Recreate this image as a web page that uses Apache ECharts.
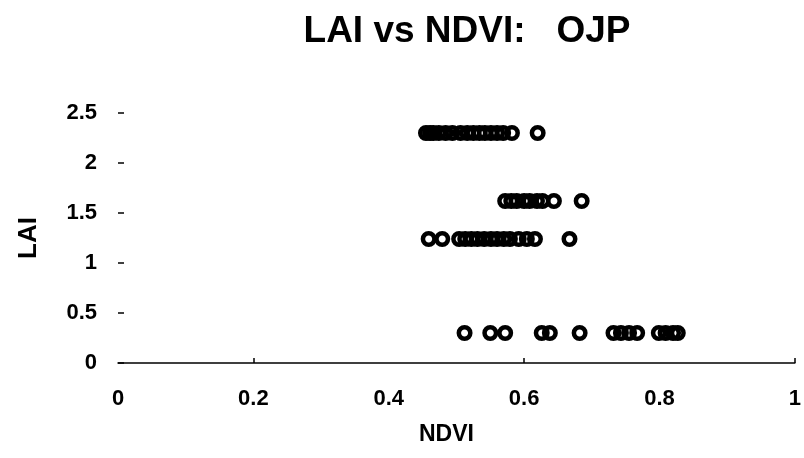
<!DOCTYPE html>
<html>
<head>
<meta charset="utf-8">
<script src="https://cdn.jsdelivr.net/npm/echarts@6/dist/echarts.min.js"></script>
<style>html,body{margin:0;padding:0;background:#fff}#c{width:804px;height:458px}</style>
</head>
<body>
<div id="c"></div>
<script>
// Data (NDVI, LAI)
const titleText = 'LAI vs NDVI:   OJP';
const xName = 'NDVI';
const yName = 'LAI';
const xTickLabels = [0, 0.2, 0.4, 0.6, 0.8, 1];
const yTickLabels = [0, 0.5, 1, 1.5, 2, 2.5];

const ndviLai230 = [0.455, 0.461, 0.466, 0.474, 0.484, 0.494, 0.506, 0.516, 0.525, 0.534, 0.542, 0.551, 0.560, 0.569, 0.582, 0.620];
const ndviLai162 = [0.572, 0.581, 0.589, 0.600, 0.608, 0.619, 0.627, 0.644, 0.685];
const ndviLai124 = [0.459, 0.479, 0.504, 0.513, 0.522, 0.531, 0.541, 0.551, 0.560, 0.570, 0.579, 0.592, 0.604, 0.616, 0.667];
const ndviLai030 = [0.512, 0.550, 0.572, 0.626, 0.638, 0.682, 0.732, 0.743, 0.755, 0.767, 0.799, 0.809, 0.820, 0.827];
const laiLevels = [2.30, 1.62, 1.24, 0.30];

const groups = [ndviLai230, ndviLai162, ndviLai124, ndviLai030];
const points = [];
groups.forEach((g, i) => g.forEach(x => points.push([x, laiLevels[i]])));

const font = '"Liberation Sans", Arial, sans-serif';
const chart = echarts.init(document.getElementById('c'), null, {renderer: 'canvas'});
chart.setOption({
  animation: false,
  backgroundColor: '#ffffff',
  title: {
    text: titleText,
    left: 462, top: 8, textAlign: 'center',
    textStyle: {fontFamily: font, fontWeight: 'bold', fontSize: 37, color: '#000'}
  },
  grid: {left: 118, right: 4, top: 113, bottom: 95, containLabel: false},
  xAxis: {
    type: 'value', min: 0, max: 1, interval: 0.2,
    name: xName, nameLocation: 'middle', nameGap: 60,
    nameTextStyle: {fontFamily: font, fontWeight: 'bold', fontSize: 23, color: '#000', padding: [0, 20, 0, 0]},
    axisLine: {show: true, lineStyle: {color: '#000', width: 1.5}},
    axisTick: {show: true, inside: true, length: 5, customValues: [0.2, 0.6, 1], lineStyle: {color: '#000', width: 1.5}},
    axisLabel: {margin: 25, fontFamily: font, fontWeight: 'bold', fontSize: 22, color: '#000',
      customValues: xTickLabels, formatter: v => String(v)},
    splitLine: {show: false}
  },
  yAxis: {
    type: 'value', min: 0, max: 2.5, interval: 0.5,
    name: yName, nameLocation: 'middle', nameGap: 76, nameRotate: 90,
    nameTextStyle: {fontFamily: font, fontWeight: 'bold', fontSize: 26, color: '#000'},
    axisLine: {show: false},
    axisTick: {show: true, inside: true, length: 6, lineStyle: {color: '#000', width: 1.5}},
    axisLabel: {margin: 21, fontFamily: font, fontWeight: 'bold', fontSize: 22, color: '#000',
      customValues: yTickLabels, formatter: v => String(v)},
    splitLine: {show: false}
  },
  series: [{
    type: 'scatter',
    data: points,
    symbol: 'circle',
    symbolSize: 11.5,
    itemStyle: {color: 'rgba(0,0,0,0)', borderColor: '#000', borderWidth: 4.5, opacity: 1},
    emphasis: {disabled: true}
  }]
});
</script>
</body>
</html>
